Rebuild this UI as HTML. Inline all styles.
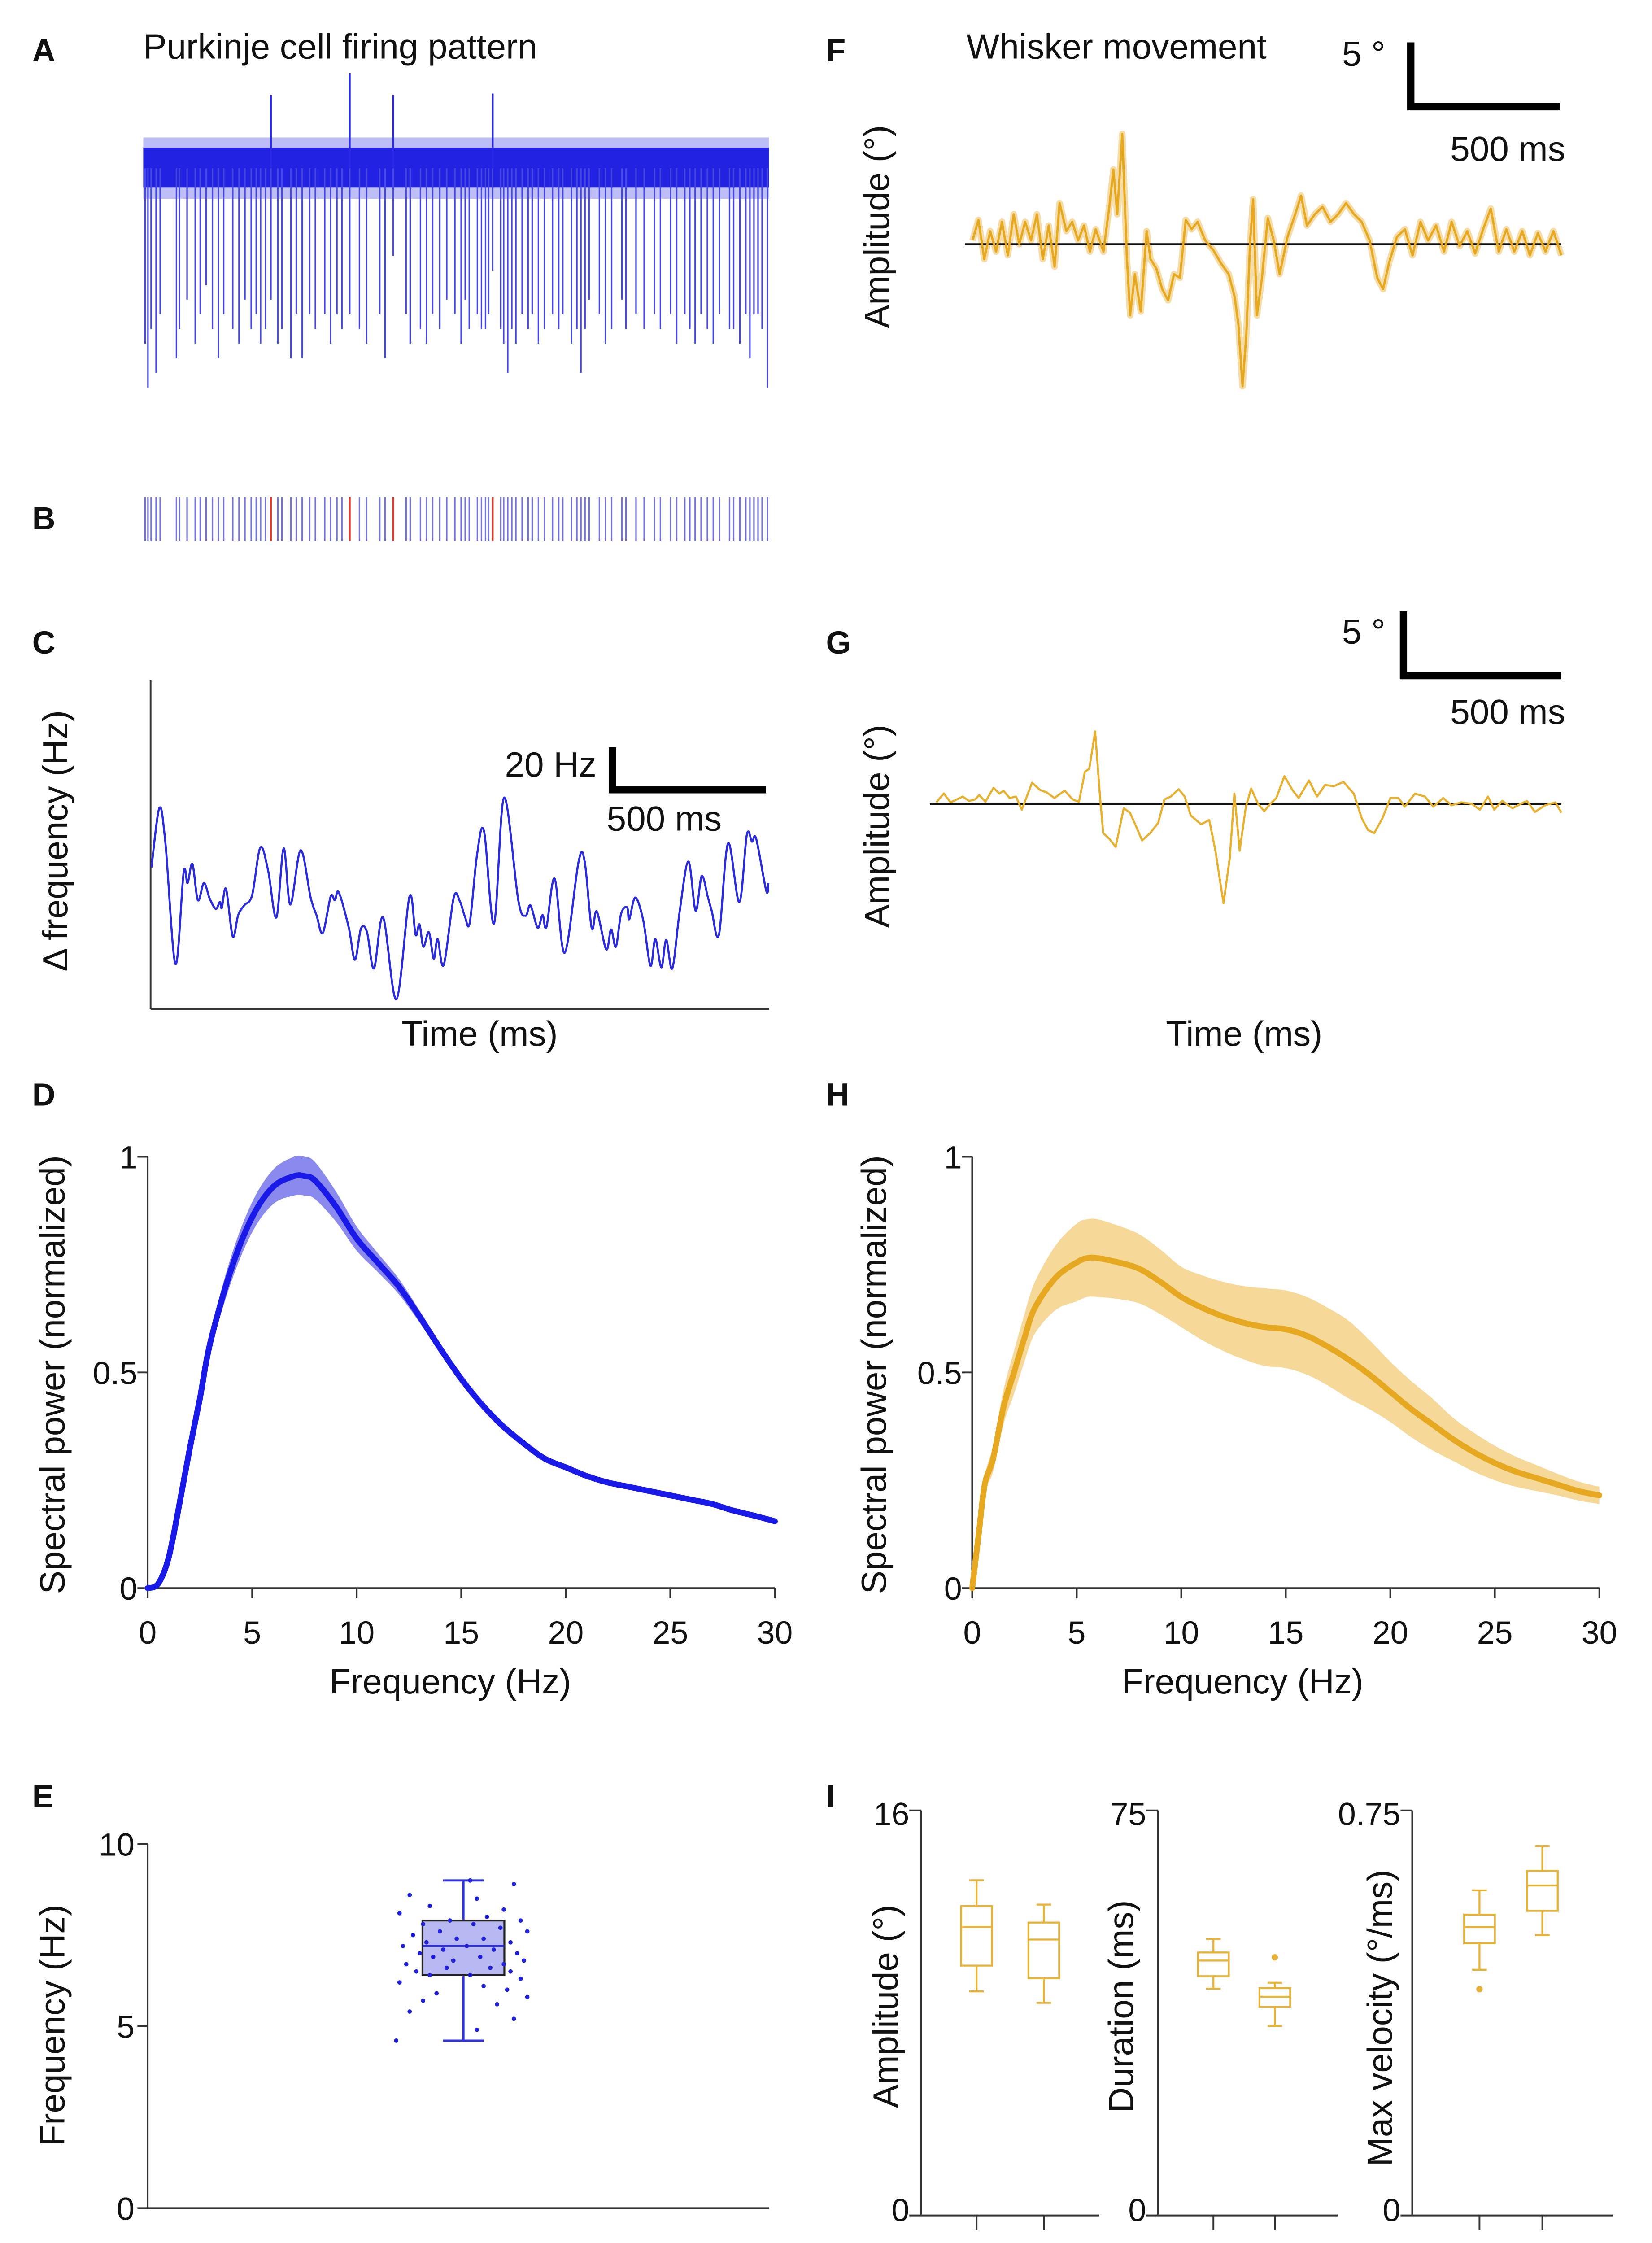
<!DOCTYPE html>
<html><head><meta charset="utf-8"><style>
html,body{margin:0;padding:0;background:#fff;width:3683px;height:5144px;overflow:hidden}
svg{display:block}
text{font-family:"Liberation Sans",Arial,sans-serif;fill:#111}
.pl{font-weight:bold;font-size:22px}
.tk{font-size:22px}
.at{font-size:24px}
</style></head><body>
<svg id="fig" width="3683" height="5144" viewBox="0 0 1130 1578" preserveAspectRatio="none" xmlns="http://www.w3.org/2000/svg">
<g id="static">
<text class="pl" x="22" y="42">A</text>
<text class="at" x="98" y="40">Purkinje cell firing pattern</text>
<text class="pl" x="22" y="362">B</text>
<text class="pl" x="22" y="447">C</text>
<text class="pl" x="22" y="756">D</text>
<text class="pl" x="22" y="1236">E</text>
<text class="pl" x="565" y="42">F</text>
<text class="pl" x="565" y="447">G</text>
<text class="pl" x="565" y="756">H</text>
<text class="pl" x="565" y="1236">I</text>
<text class="at" x="661" y="40">Whisker movement</text>
<line x1="103" y1="465" x2="103" y2="690" stroke="#333" stroke-width="1.2"/>
<line x1="103" y1="690" x2="526" y2="690" stroke="#333" stroke-width="1.2"/>
<text class="at" transform="translate(46,575) rotate(-90)" text-anchor="middle">Δ frequency (Hz)</text>
<text class="at" x="328" y="715" text-anchor="middle">Time (ms)</text>
<path d="M419,511 V540 H524" fill="none" stroke="#000" stroke-width="5"/>
<text class="at" x="408" y="531" text-anchor="end">20 Hz</text>
<text class="at" x="415" y="568">500 ms</text>
<path d="M965,29 V73 H1067" fill="none" stroke="#000" stroke-width="5"/>
<text class="at" x="918" y="45">5 °</text>
<text class="at" x="992" y="110">500 ms</text>
<text class="at" transform="translate(608,155) rotate(-90)" text-anchor="middle">Amplitude (°)</text>
<path d="M960,418 V462 H1068" fill="none" stroke="#000" stroke-width="5"/>
<text class="at" x="918" y="440">5 °</text>
<text class="at" x="992" y="495">500 ms</text>
<text class="at" transform="translate(608,565) rotate(-90)" text-anchor="middle">Amplitude (°)</text>
<text class="at" x="851" y="715" text-anchor="middle">Time (ms)</text>
<text class="at" transform="translate(44,940) rotate(-90)" text-anchor="middle">Spectral power (normalized)</text>
<text class="at" x="308" y="1158" text-anchor="middle">Frequency (Hz)</text>
<text class="at" transform="translate(606,940) rotate(-90)" text-anchor="middle">Spectral power (normalized)</text>
<text class="at" x="850" y="1158" text-anchor="middle">Frequency (Hz)</text>
<text class="at" transform="translate(44,1385) rotate(-90)" text-anchor="middle">Frequency (Hz)</text>
<text class="at" transform="translate(614,1372) rotate(-90)" text-anchor="middle">Amplitude (°)</text>
<text class="at" transform="translate(775,1372) rotate(-90)" text-anchor="middle">Duration (ms)</text>
<text class="at" transform="translate(952,1380) rotate(-90)" text-anchor="middle">Max velocity (°/ms)</text>
</g>
<g id="dyn"></g>
</svg>
<script>
const spikeTimes=[6,15,25,41,54,106,116,140,166,182,201,221,240,257,286,306,325,345,361,375,391,408,430,443,472,489,508,532,550,580,599,619,635,660,691,714,756,773,799,840,853,886,905,925,948,970,996,1016,1029,1042,1068,1081,1094,1104,1117,1143,1152,1165,1178,1191,1211,1230,1243,1263,1282,1308,1328,1341,1369,1386,1399,1412,1425,1458,1477,1497,1530,1543,1575,1601,1634,1653,1686,1705,1731,1747,1764,1783,1803,1822,1842,1874,1887,1907,1926,1939,1952,1965,1978,1995];
const spikeDepths=[1.2,1.5,1.1,1.4,1.0,1.3,1.1,0.9,1.2,1.0,0.8,1.1,1.3,1.0,1.1,1.2,0.9,1.1,1.0,1.2,1.1,0.9,1.2,1.1,1.3,1.0,1.3,1.0,1.1,1.0,1.2,1.0,1.1,1.0,1.1,1.2,1.0,1.3,0.6,1.0,1.2,1.1,1.2,1.0,1.1,0.9,1.0,1.2,0.9,1.1,1.0,1.1,1.1,1.0,0.7,1.1,1.2,1.4,1.1,1.2,1.0,1.1,1.0,1.2,1.1,1.0,1.1,1.0,1.2,1.1,1.4,1.1,0.9,1.0,1.2,1.1,0.9,1.1,1.0,1.1,1.0,1.1,1.0,1.2,1.0,1.1,1.2,1.0,1.1,1.2,1.0,1.1,1.1,1.2,1.0,1.3,1.0,1.0,1.1,1.5];
const complexTimes=[408,660,799,1117];
const complexHeights=[0.50,0.65,0.50,0.51];
const cTime=[3,29,49,82,109,122,138,156,176,195,215,229,235,249,271,289,309,335,362,388,415,439,461,495,528,548,568,594,608,621,654,674,694,714,737,767,811,854,874,887,900,918,934,947,967,1000,1020,1037,1053,1077,1100,1133,1166,1213,1237,1253,1277,1293,1306,1333,1366,1412,1432,1455,1472,1503,1519,1535,1552,1572,1579,1599,1625,1649,1665,1685,1701,1721,1745,1774,1798,1818,1838,1851,1875,1905,1942,1967,1984,1998,2031,2038];
const cHz=[12.0,41.0,23.8,-35.2,9.5,4.4,13.7,-4.0,4.4,-3.2,-8.2,-4.8,-7.8,1.5,-21.7,-11.2,-6.5,-1.5,21.7,10.3,-12.4,21.3,-6.1,20.4,-2.7,-11.6,-20.0,-2.3,-4.0,-0.2,-17.5,-33.1,-17.9,-19.6,-37.3,-12.4,-52.4,-2.3,-20.8,-15.8,-26.7,-19.6,-32.6,-23.0,-35.6,-2.7,-4.4,-12.0,-14.9,18.3,29.7,-15.4,46.1,-4.0,-11.6,-6.5,-17.5,-11.2,-17.1,6.5,-29.7,14.9,14.9,-17.5,-9.5,-28.0,-18.3,-26.7,-10.7,-7.4,-13.3,-2.7,-13.7,-36.0,-23.0,-36.8,-23.4,-37.3,-9.9,14.9,-9.1,7.8,-2.3,-9.1,-20.8,23.8,-4.9,28.0,24.6,25.9,0.6,4.4];
const fTime=[26,46,66,86,106,126,146,166,185,205,225,245,265,285,305,322,345,365,385,405,425,445,471,491,505,518,535,551,562,578,598,618,631,651,671,691,711,731,751,771,791,817,844,870,897,917,930,944,957,970,980,993,1010,1030,1050,1070,1097,1123,1143,1163,1190,1216,1243,1269,1296,1323,1349,1376,1402,1422,1442,1469,1496,1522,1549,1575,1602,1629,1655,1682,1708,1735,1762,1788,1815,1841,1868,1895,1921,1948,1974,2001,2028];
const fDeg=[0.3,1.93,-1.19,1.04,-0.59,1.78,-0.89,2.38,0,1.78,0.3,2.38,-1.19,1.49,-1.78,3.27,1.04,1.78,0.3,1.49,-0.59,1.19,-0.59,2.97,5.94,2.38,8.77,-1.19,-5.65,-2.38,-5.35,1.04,-1.19,-1.93,-3.57,-4.46,-2.38,-2.67,1.93,1.19,1.78,0.3,-0.45,-1.49,-2.38,-4.16,-6.39,-11.29,-7.13,0.3,3.57,-5.65,-2.67,2.08,0.3,-2.38,0.59,2.38,3.86,1.49,2.38,2.97,1.78,2.38,3.27,2.38,1.78,0.3,-2.67,-3.57,-1.49,0.59,1.19,-0.89,1.78,0.3,1.49,-0.59,1.78,-0.15,1.04,-0.74,1.19,2.82,-0.59,1.19,-0.59,1.04,-0.89,0.89,-0.59,1.04,-0.89];
const gTime=[21,45,67,87,106,126,146,159,179,205,224,237,257,277,296,329,355,375,401,434,460,480,499,513,532,548,558,578,598,624,644,663,683,709,735,755,775,801,820,840,873,899,919,945,965,980,997,1017,1034,1056,1076,1096,1115,1141,1168,1187,1220,1246,1272,1299,1331,1364,1390,1410,1430,1456,1482,1508,1528,1561,1593,1620,1652,1678,1711,1744,1770,1796,1816,1842,1875,1901,1921,1947,1980,2013,2032];
const gDeg=[0.15,0.84,0.15,0.38,0.6,0.26,0.38,0.72,0.2,1.28,0.83,1.05,0.49,0.6,-0.42,1.68,1.11,0.94,0.49,1.06,0.37,0.2,2.53,2.76,5.66,0.49,-2.24,-2.69,-3.31,-0.31,-0.65,-1.68,-2.81,-2.24,-1.44,0.38,0.6,1.17,0.6,-0.88,-1.56,-1.22,-3.61,-7.7,-4.2,0.83,-3.61,-0.19,1.23,0.03,-0.53,0.03,0.49,2.19,1.06,0.49,1.85,0.6,1.51,1.4,1.74,0.83,-1.1,-2.0,-2.24,-1.1,0.49,0.49,-0.19,0.83,0.6,-0.19,0.49,-0.08,0.15,0.03,-0.42,0.6,-0.42,0.26,-0.31,0.03,0.26,-0.59,-0.08,0.15,-0.65];
const dFreq=[0,0.5,1,1.5,2,2.5,3,4,5,6,7,7.5,8,9,10,11,12,13,14,15,16,17,18,19,20,21,22,23,24,25,26,27,28,29,30];
const dPower=[0,0.01,0.07,0.19,0.32,0.44,0.57,0.74,0.86,0.93,0.955,0.955,0.945,0.885,0.81,0.755,0.70,0.63,0.555,0.485,0.425,0.375,0.335,0.30,0.28,0.26,0.245,0.235,0.225,0.215,0.205,0.195,0.18,0.168,0.155];
const dSem=[0,0.003,0.006,0.01,0.014,0.018,0.022,0.03,0.035,0.04,0.045,0.045,0.043,0.035,0.028,0.022,0.018,0.014,0.012,0.01,0.009,0.008,0.007,0.006,0.005,0.005,0.004,0.004,0.004,0.003,0.003,0.003,0.003,0.003,0.003];
const hFreq=[0,0.3,0.6,1,1.5,2,2.5,3,4,5,5.5,6,7,8,9,10,11,12,13,14,15,16,17,18,19,20,21,22,23,24,25,26,27,28,29,30];
const hPower=[0,0.12,0.24,0.30,0.42,0.50,0.58,0.65,0.72,0.755,0.765,0.765,0.755,0.74,0.71,0.675,0.65,0.63,0.615,0.605,0.6,0.585,0.56,0.53,0.495,0.455,0.415,0.38,0.345,0.315,0.29,0.27,0.255,0.24,0.225,0.215];
const hSem=[0,0.01,0.02,0.03,0.04,0.05,0.055,0.06,0.075,0.09,0.09,0.09,0.085,0.08,0.075,0.07,0.075,0.08,0.085,0.09,0.09,0.09,0.09,0.09,0.08,0.07,0.065,0.06,0.05,0.045,0.04,0.035,0.03,0.025,0.022,0.02];
const specTicks=[0,5,10,15,20,25,30];
const powTicks=[0,0.5,1];
const powTickLabels=["0","0.5","1"];
const eStats={min:4.6,q1:6.4,med:7.2,q3:7.9,max:9.0};
const eValues=[9.0,8.9,8.6,8.5,8.3,8.2,8.1,8.0,7.9,7.9,7.8,7.8,7.7,7.6,7.6,7.5,7.4,7.4,7.3,7.3,7.2,7.2,7.1,7.1,7.0,7.0,6.9,6.9,6.8,6.8,6.7,6.7,6.6,6.6,6.5,6.5,6.4,6.4,6.3,6.2,6.1,6.0,5.9,5.8,5.7,5.6,5.4,5.2,4.9,4.6];
const eJitter=[0.1,0.75,-0.8,0.2,-0.5,0.6,-0.95,0.35,-0.2,0.85,-0.6,0.15,0.55,-0.35,0.95,-0.75,0.3,-0.1,0.7,-0.55,0.05,-0.9,0.45,-0.3,0.8,-0.65,0.25,-0.45,0.9,-0.15,0.6,-0.85,0.4,-0.25,0.7,-0.7,0.1,-0.5,0.85,-0.95,0.3,0.65,-0.4,0.95,-0.6,0.5,-0.8,0.75,0.2,-1.0];
const eTicks=[0,5,10];
const iCats=["P","R"];
const ampStats=[{min:8.85,q1:9.87,med:11.4,q3:12.22,max:13.24,out:[]},{min:8.4,q1:9.37,med:10.9,q3:11.57,max:12.28,out:[]}];
const durStats=[{min:42.0,q1:44.3,med:47.2,q3:48.7,max:51.2,out:[]},{min:35.1,q1:38.6,med:40.5,q3:42.1,max:43.1,out:[47.8]}];
const velStats=[{min:0.455,q1:0.504,med:0.534,q3:0.557,max:0.602,out:[0.419]},{min:0.519,q1:0.564,med:0.611,q3:0.638,max:0.684,out:[]}];
const ampTicks=[0,16], durTicks=[0,75], velTicks=[0,0.75];
const velTickLabels=["0","0.75"];

const NS="http://www.w3.org/2000/svg";
const root=document.getElementById('dyn');
function mk(tag,attrs,parent){const e=document.createElementNS(NS,tag);for(const k in attrs)e.setAttribute(k,attrs[k]);(parent||root).appendChild(e);return e;}
function lin(d0,d1,r0,r1){return v=>r0+(v-d0)/(d1-d0)*(r1-r0);}
function smooth(pts){let d="M"+pts[0][0].toFixed(2)+","+pts[0][1].toFixed(2);for(let i=0;i<pts.length-1;i++){const p0=pts[Math.max(0,i-1)],p1=pts[i],p2=pts[i+1],p3=pts[Math.min(pts.length-1,i+2)];const c1x=p1[0]+(p2[0]-p0[0])/6,c1y=p1[1]+(p2[1]-p0[1])/6,c2x=p2[0]-(p3[0]-p1[0])/6,c2y=p2[1]-(p3[1]-p1[1])/6;d+="C"+c1x.toFixed(2)+","+c1y.toFixed(2)+" "+c2x.toFixed(2)+","+c2y.toFixed(2)+" "+p2[0].toFixed(2)+","+p2[1].toFixed(2);}return d;}
function poly(pts){return "M"+pts.map(p=>p[0].toFixed(2)+","+p[1].toFixed(2)).join("L");}

(function(){
 const x=lin(0,2000,98,526); const base=115; const yd=lin(0,1,base,base+100);
 const g=mk('g',{});
 
 
 const band2=mk('rect',{x:98,y:94,width:428,height:42,fill:'#5a5aec',opacity:0.4},g);
 
 
 const band=mk('rect',{x:98,y:101,width:428,height:27,fill:'#2222e2'},g);
 
 
 spikeTimes.forEach((t,i)=>{
  const l=mk('line',{x1:x(t),x2:x(t),y1:base,y2:yd(spikeDepths[i]),stroke:'#4646e0','stroke-width':1},g);
  
  
 });
 complexTimes.forEach((t,i)=>{
  const l=mk('line',{x1:x(t),x2:x(t),y1:base,y2:yd(-complexHeights[i]),stroke:'#2a2ae6','stroke-width':1.2},g);
  
  
 });
})();
(function(){
 const x=lin(0,2000,98,526);
 const g=mk('g',{});
 
 
 spikeTimes.forEach(t=>{
  const l=mk('line',{x1:x(t),x2:x(t),y1:340,y2:370,stroke:'#7474d8','stroke-width':1},g);
  
  
 });
 complexTimes.forEach(t=>{
  const l=mk('line',{x1:x(t),x2:x(t),y1:340,y2:370,stroke:'#e03a2a','stroke-width':1.2},g);
  
  
 });
})();
(function(){
 const x=lin(0,2040,103,526), y=lin(0,20,610,582);
 const p=mk('path',{d:smooth(cTime.map((t,i)=>[x(t),y(cHz[i])])),fill:'none',stroke:'#2b2bd9','stroke-width':1.4});
 
 
})();
(function(){
 const x=lin(0,2028,660,1068), y=lin(0,5,167,124);
 const pts=fTime.map((t,i)=>[x(t),y(fDeg[i])]);
 const b=mk('path',{d:poly(pts),fill:'none',stroke:'#eab23a','stroke-width':4.5,opacity:0.45,'stroke-linejoin':'round'});
 
 
 const z=mk('line',{x1:660,x2:1068,y1:167,y2:167,stroke:'#111','stroke-width':1.3});
 
 
 const p=mk('path',{d:poly(pts),fill:'none',stroke:'#e6a820','stroke-width':1.5,'stroke-linejoin':'round'});
 
 
})();
(function(){
 const x=lin(0,2032,636,1068), y=lin(0,5,550,506);
 const z=mk('line',{x1:636,x2:1068,y1:550,y2:550,stroke:'#111','stroke-width':1.3});
 
 
 const p=mk('path',{d:poly(gTime.map((t,i)=>[x(t),y(gDeg[i])])),fill:'none',stroke:'#e8b030','stroke-width':1.4,'stroke-linejoin':'round'});
 
 
})();
function spectrum(prefix,x0,freq,pow,sem,line,fill){
 const x=lin(0,30,x0,x0+429), y=lin(0,1,1086,791);
 const up=freq.map((f,i)=>[x(f),y(pow[i]+sem[i])]), lo=freq.map((f,i)=>[x(f),y(Math.max(0,pow[i]-sem[i]))]).reverse();
 const b=mk('path',{d:smooth(up)+"L"+smooth(lo).slice(1)+"Z",fill:fill,stroke:'none'});
 
 
 const ax=mk('path',{d:`M${x0},${y(1)}V1086H${x(30)}`,fill:'none',stroke:'#333','stroke-width':1.2});
 
 
 specTicks.forEach(t=>{
  const l=mk('line',{x1:x(t),x2:x(t),y1:1086,y2:1093,stroke:'#333','stroke-width':1.2});
  
  
  const tx=mk('text',{x:x(t),y:1124,'text-anchor':'middle',class:'tk'});tx.textContent=t;
  
  
 });
 powTicks.forEach((t,i)=>{
  const l=mk('line',{x1:x0-7,x2:x0,y1:y(t),y2:y(t),stroke:'#333','stroke-width':1.2});
  
  
  const tx=mk('text',{x:x0-7,y:y(t)+8,'text-anchor':'end',class:'tk'});tx.textContent=powTickLabels[i];
  
  
 });
 const p=mk('path',{d:smooth(freq.map((f,i)=>[x(f),y(pow[i])])),fill:'none',stroke:line,'stroke-width':4,'stroke-linecap':'round'});
 
 
}
spectrum('d',101,dFreq,dPower,dSem,'#1a1ae8','#8a8aee');
spectrum('h',665,hFreq,hPower,hSem,'#e6a820','#f6d898');
(function(){
 const y=lin(0,10,1510,1261), cx=317;
 const ax=mk('path',{d:`M101,${y(10)}V1510H526`,fill:'none',stroke:'#333','stroke-width':1.2});
 
 
 eTicks.forEach(t=>{
  const l=mk('line',{x1:94,x2:101,y1:y(t),y2:y(t),stroke:'#333','stroke-width':1.2});
  
  
  const tx=mk('text',{x:92,y:y(t)+8,'text-anchor':'end',class:'tk'});tx.textContent=t;
  
  
 });
 const s=eStats;
 const w=mk('path',{d:`M${cx},${y(s.max)}V${y(s.q3)}M${cx},${y(s.q1)}V${y(s.min)}M${cx-14},${y(s.max)}H${cx+14}M${cx-14},${y(s.min)}H${cx+14}`,stroke:'#3030d8','stroke-width':1.5,fill:'none'});
 
 
 const r=mk('rect',{x:cx-28,y:y(s.q3),width:56,height:y(s.q1)-y(s.q3),fill:'#b8b8f2',stroke:'#222','stroke-width':1.3});
 
 
 const m=mk('line',{x1:cx-28,x2:cx+28,y1:y(s.med),y2:y(s.med),stroke:'#3030d8','stroke-width':1.5});
 
 
 eValues.forEach((v,i)=>{
  const c=mk('circle',{cx:cx+eJitter[i]*46,cy:y(v),r:1.5,fill:'#2020d8'});
  
  
 });
})();
function iPanel(prefix,ax0,axEnd,ticks,labels,stats,pxs){
 const y=lin(ticks[0],ticks[1],1515,1238);
 const a=mk('path',{d:`M${ax0},1238V1515M${ax0-8},1515H${axEnd}`,fill:'none',stroke:'#333','stroke-width':1.2});
 
 
 const t1=mk('line',{x1:ax0-8,x2:ax0,y1:1238,y2:1238,stroke:'#333','stroke-width':1.2});
 
 
 ticks.forEach((t,i)=>{
  const tx=mk('text',{x:ax0-8,y:y(t)+(i==0?4:10),'text-anchor':'end',class:'tk'});tx.textContent=labels[i];
  
  
 });
 stats.forEach((s,i)=>{
  const cx=pxs[i];
  const tk=mk('line',{x1:cx,x2:cx,y1:1515,y2:1525,stroke:'#333','stroke-width':1.2});
  
  
  const tx=mk('text',{x:cx,y:1553,'text-anchor':'middle',class:'at'});tx.textContent=iCats[i];
  
  
  const w=mk('path',{d:`M${cx},${y(s.max)}V${y(s.q3)}M${cx},${y(s.q1)}V${y(s.min)}M${cx-5},${y(s.max)}H${cx+5}M${cx-5},${y(s.min)}H${cx+5}`,stroke:'#e6b23a','stroke-width':1.3,fill:'none'});
  
  
  const r=mk('rect',{x:cx-10.5,y:y(s.q3),width:21,height:y(s.q1)-y(s.q3),fill:'none',stroke:'#e6b23a','stroke-width':1.3});
  
  
  const m=mk('line',{x1:cx-10.5,x2:cx+10.5,y1:y(s.med),y2:y(s.med),stroke:'#e6b23a','stroke-width':1.3});
  
  
  s.out.forEach(o=>{
   const c=mk('circle',{cx:cx,cy:y(o),r:2.2,fill:'#e6b23a'});
   
   
  });
 });
}
iPanel('i-amp',630,752,ampTicks,["0","16"],ampStats,[668,714]);
iPanel('i-dur',792,915,durTicks,["0","75"],durStats,[830,872]);
iPanel('i-vel',966,1103,velTicks,velTickLabels,velStats,[1012,1055]);
</script>
</body></html>
